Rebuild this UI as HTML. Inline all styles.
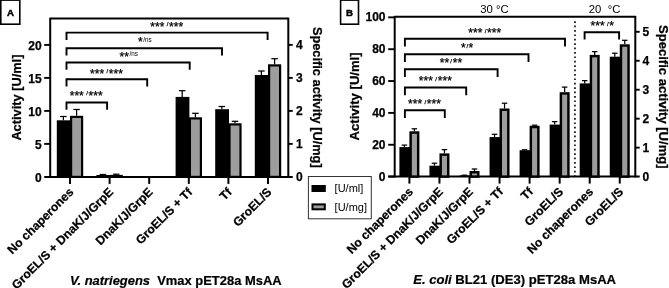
<!DOCTYPE html>
<html><head><meta charset="utf-8"><title>Figure</title>
<style>
html,body{margin:0;padding:0;background:#fff;}
svg{display:block;}
svg text{font-family:"Liberation Sans", sans-serif;white-space:pre;}
</style></head>
<body>
<svg width="669" height="288" viewBox="0 0 669 288">
<rect x="0" y="0" width="669" height="288" fill="#fff"/>
<line x1="50.20" y1="17.70" x2="50.20" y2="177.70" stroke="#000" stroke-width="2.0" />
<line x1="288.30" y1="17.70" x2="288.30" y2="177.70" stroke="#000" stroke-width="2.0" />
<line x1="50.20" y1="18.50" x2="288.30" y2="18.50" stroke="#000" stroke-width="2.0" />
<line x1="44.20" y1="176.90" x2="292.70" y2="176.90" stroke="#000" stroke-width="2.0" />
<text x="41.70" y="181.50" font-size="12" font-weight="bold" text-anchor="end" fill="#000" stroke="#000" stroke-width="0.25" >0</text>
<line x1="44.20" y1="143.90" x2="50.20" y2="143.90" stroke="#000" stroke-width="1.9" />
<text x="41.70" y="148.50" font-size="12" font-weight="bold" text-anchor="end" fill="#000" stroke="#000" stroke-width="0.25" >5</text>
<line x1="44.20" y1="110.90" x2="50.20" y2="110.90" stroke="#000" stroke-width="1.9" />
<text x="41.70" y="115.50" font-size="12" font-weight="bold" text-anchor="end" fill="#000" stroke="#000" stroke-width="0.25" >10</text>
<line x1="44.20" y1="77.90" x2="50.20" y2="77.90" stroke="#000" stroke-width="1.9" />
<text x="41.70" y="82.50" font-size="12" font-weight="bold" text-anchor="end" fill="#000" stroke="#000" stroke-width="0.25" >15</text>
<line x1="44.20" y1="44.90" x2="50.20" y2="44.90" stroke="#000" stroke-width="1.9" />
<text x="41.70" y="49.50" font-size="12" font-weight="bold" text-anchor="end" fill="#000" stroke="#000" stroke-width="0.25" >20</text>
<text x="296.00" y="180.90" font-size="12" font-weight="bold" text-anchor="start" fill="#000" stroke="#000" stroke-width="0.25" >0</text>
<line x1="288.30" y1="143.90" x2="292.70" y2="143.90" stroke="#000" stroke-width="1.9" />
<text x="296.00" y="147.90" font-size="12" font-weight="bold" text-anchor="start" fill="#000" stroke="#000" stroke-width="0.25" >1</text>
<line x1="288.30" y1="110.90" x2="292.70" y2="110.90" stroke="#000" stroke-width="1.9" />
<text x="296.00" y="114.90" font-size="12" font-weight="bold" text-anchor="start" fill="#000" stroke="#000" stroke-width="0.25" >2</text>
<line x1="288.30" y1="77.90" x2="292.70" y2="77.90" stroke="#000" stroke-width="1.9" />
<text x="296.00" y="81.90" font-size="12" font-weight="bold" text-anchor="start" fill="#000" stroke="#000" stroke-width="0.25" >3</text>
<line x1="288.30" y1="44.90" x2="292.70" y2="44.90" stroke="#000" stroke-width="1.9" />
<text x="296.00" y="48.90" font-size="12" font-weight="bold" text-anchor="start" fill="#000" stroke="#000" stroke-width="0.25" >4</text>
<line x1="70.00" y1="176.90" x2="70.00" y2="183.90" stroke="#000" stroke-width="2.0" />
<line x1="63.40" y1="120.30" x2="63.40" y2="116.50" stroke="#000" stroke-width="1.25" />
<line x1="60.15" y1="116.50" x2="66.65" y2="116.50" stroke="#000" stroke-width="1.25" />
<line x1="76.60" y1="115.80" x2="76.60" y2="109.50" stroke="#000" stroke-width="1.25" />
<line x1="73.35" y1="109.50" x2="79.85" y2="109.50" stroke="#000" stroke-width="1.25" />
<rect x="56.80" y="120.30" width="13.80" height="56.60" fill="#000"/>
<rect x="71.10" y="116.90" width="11.00" height="60.00" fill="#9d9d9d" stroke="#000" stroke-width="2.2"/>
<line x1="109.60" y1="176.90" x2="109.60" y2="183.90" stroke="#000" stroke-width="2.0" />
<line x1="103.00" y1="175.00" x2="103.00" y2="174.50" stroke="#000" stroke-width="1.25" />
<line x1="99.75" y1="174.50" x2="106.25" y2="174.50" stroke="#000" stroke-width="1.25" />
<line x1="116.20" y1="174.90" x2="116.20" y2="174.20" stroke="#000" stroke-width="1.25" />
<line x1="112.95" y1="174.20" x2="119.45" y2="174.20" stroke="#000" stroke-width="1.25" />
<rect x="96.40" y="175.00" width="13.80" height="1.90" fill="#000"/>
<rect x="110.70" y="176.00" width="11.00" height="0.90" fill="#9d9d9d" stroke="#000" stroke-width="2.2"/>
<line x1="149.20" y1="176.90" x2="149.20" y2="183.90" stroke="#000" stroke-width="2.0" />
<line x1="188.80" y1="176.90" x2="188.80" y2="183.90" stroke="#000" stroke-width="2.0" />
<line x1="182.20" y1="96.90" x2="182.20" y2="90.70" stroke="#000" stroke-width="1.25" />
<line x1="178.95" y1="90.70" x2="185.45" y2="90.70" stroke="#000" stroke-width="1.25" />
<line x1="195.40" y1="117.30" x2="195.40" y2="113.30" stroke="#000" stroke-width="1.25" />
<line x1="192.15" y1="113.30" x2="198.65" y2="113.30" stroke="#000" stroke-width="1.25" />
<rect x="175.60" y="96.90" width="13.80" height="80.00" fill="#000"/>
<rect x="189.90" y="118.40" width="11.00" height="58.50" fill="#9d9d9d" stroke="#000" stroke-width="2.2"/>
<line x1="228.40" y1="176.90" x2="228.40" y2="183.90" stroke="#000" stroke-width="2.0" />
<line x1="221.80" y1="109.20" x2="221.80" y2="106.50" stroke="#000" stroke-width="1.25" />
<line x1="218.55" y1="106.50" x2="225.05" y2="106.50" stroke="#000" stroke-width="1.25" />
<line x1="235.00" y1="123.30" x2="235.00" y2="121.30" stroke="#000" stroke-width="1.25" />
<line x1="231.75" y1="121.30" x2="238.25" y2="121.30" stroke="#000" stroke-width="1.25" />
<rect x="215.20" y="109.20" width="13.80" height="67.70" fill="#000"/>
<rect x="229.50" y="124.40" width="11.00" height="52.50" fill="#9d9d9d" stroke="#000" stroke-width="2.2"/>
<line x1="268.00" y1="176.90" x2="268.00" y2="183.90" stroke="#000" stroke-width="2.0" />
<line x1="261.40" y1="75.00" x2="261.40" y2="71.00" stroke="#000" stroke-width="1.25" />
<line x1="258.15" y1="71.00" x2="264.65" y2="71.00" stroke="#000" stroke-width="1.25" />
<line x1="274.60" y1="64.30" x2="274.60" y2="58.70" stroke="#000" stroke-width="1.25" />
<line x1="271.35" y1="58.70" x2="277.85" y2="58.70" stroke="#000" stroke-width="1.25" />
<rect x="254.80" y="75.00" width="13.80" height="101.90" fill="#000"/>
<rect x="269.10" y="65.40" width="11.00" height="111.50" fill="#9d9d9d" stroke="#000" stroke-width="2.2"/>
<text x="74.30" y="192.80" font-size="12.15" font-weight="bold" text-anchor="end" fill="#000" stroke="#000" stroke-width="0.25" transform="rotate(-45 74.30 192.80)" >No chaperones</text>
<text x="113.90" y="192.80" font-size="12.15" font-weight="bold" text-anchor="end" fill="#000" stroke="#000" stroke-width="0.25" transform="rotate(-45 113.90 192.80)" >GroEL/S + DnaK/J/GrpE</text>
<text x="153.50" y="192.80" font-size="12.15" font-weight="bold" text-anchor="end" fill="#000" stroke="#000" stroke-width="0.25" transform="rotate(-45 153.50 192.80)" >DnaK/J/GrpE</text>
<text x="193.10" y="192.80" font-size="12.15" font-weight="bold" text-anchor="end" fill="#000" stroke="#000" stroke-width="0.25" transform="rotate(-45 193.10 192.80)" >GroEL/S + Tf</text>
<text x="232.70" y="192.80" font-size="12.15" font-weight="bold" text-anchor="end" fill="#000" stroke="#000" stroke-width="0.25" transform="rotate(-45 232.70 192.80)" >Tf</text>
<text x="272.30" y="192.80" font-size="12.15" font-weight="bold" text-anchor="end" fill="#000" stroke="#000" stroke-width="0.25" transform="rotate(-45 272.30 192.80)" >GroEL/S</text>
<polyline points="66.50,39.90 66.50,32.60 267.60,32.60 267.60,39.90" fill="none" stroke="#000" stroke-width="1.9" stroke-linejoin="miter"/>
<text x="150.26" y="30.54" font-weight="normal" fill="#000"><tspan font-size="12.0" y="30.54" stroke="#000" stroke-width="0.25" letter-spacing="0.06">***</tspan><tspan font-size="5.9" y="26.10" dx="2.30" stroke="#000" stroke-width="0.25">/</tspan><tspan font-size="12.0" y="30.54" dx="0.70" stroke="#000" stroke-width="0.25" letter-spacing="0.06">***</tspan></text>
<polyline points="66.50,55.50 66.50,48.20 222.00,48.20 222.00,55.50" fill="none" stroke="#000" stroke-width="1.9" stroke-linejoin="miter"/>
<text x="137.96" y="45.94" font-weight="normal" fill="#000"><tspan font-size="12.0" y="45.94" stroke="#000" stroke-width="0.25" letter-spacing="0.06">*</tspan><tspan font-size="6.3" y="41.50" dx="0.50">/ns</tspan></text>
<polyline points="66.50,69.80 66.50,62.50 189.70,62.50 189.70,69.80" fill="none" stroke="#000" stroke-width="1.9" stroke-linejoin="miter"/>
<text x="119.46" y="60.54" font-weight="normal" fill="#000"><tspan font-size="12.0" y="60.54" stroke="#000" stroke-width="0.25" letter-spacing="0.06">**</tspan><tspan font-size="6.3" y="56.10" dx="0.50">/ns</tspan></text>
<polyline points="66.50,86.60 66.50,79.30 147.20,79.30 147.20,86.60" fill="none" stroke="#000" stroke-width="1.9" stroke-linejoin="miter"/>
<text x="89.96" y="77.74" font-weight="normal" fill="#000"><tspan font-size="12.0" y="77.74" stroke="#000" stroke-width="0.25" letter-spacing="0.06">***</tspan><tspan font-size="5.9" y="73.30" dx="2.30" stroke="#000" stroke-width="0.25">/</tspan><tspan font-size="12.0" y="77.74" dx="0.70" stroke="#000" stroke-width="0.25" letter-spacing="0.06">***</tspan></text>
<polyline points="66.50,109.80 66.50,102.50 107.10,102.50 107.10,109.80" fill="none" stroke="#000" stroke-width="1.9" stroke-linejoin="miter"/>
<text x="69.66" y="99.74" font-weight="normal" fill="#000"><tspan font-size="12.0" y="99.74" stroke="#000" stroke-width="0.25" letter-spacing="0.06">***</tspan><tspan font-size="5.9" y="95.30" dx="2.30" stroke="#000" stroke-width="0.25">/</tspan><tspan font-size="12.0" y="99.74" dx="0.70" stroke="#000" stroke-width="0.25" letter-spacing="0.06">***</tspan></text>
<text x="20.80" y="97.60" font-size="12.8" font-weight="bold" text-anchor="middle" fill="#000" stroke="#000" stroke-width="0.25" transform="rotate(-90 20.80 97.60)" >Activity [U/ml]</text>
<text x="312.90" y="97.30" font-size="12.8" font-weight="bold" text-anchor="middle" fill="#000" stroke="#000" stroke-width="0.25" transform="rotate(90 312.90 97.30)" >Specific activity [U/mg]</text>
<text transform="translate(175.8 284.5) scale(1.079 1)" x="0" y="0" font-size="12" font-weight="bold" stroke="#000" stroke-width="0.2" text-anchor="middle"><tspan font-style="italic">V. natriegens</tspan>  Vmax pET28a MsAA</text>
<rect x="0.8" y="0.1" width="19" height="24.1" fill="#fff" stroke="#000" stroke-width="1.6"/>
<text x="10.40" y="16.10" font-size="9.7" font-weight="bold" text-anchor="middle" fill="#000" stroke="#000" stroke-width="0.25" paint-order="stroke" style="stroke-width:0.45">A</text>
<rect x="308.4" y="176.5" width="62.9" height="42.3" fill="#fff" stroke="#333" stroke-width="1"/>
<rect x="311.5" y="185" width="14.3" height="7" fill="#000"/>
<rect x="312.5" y="204.4" width="12.3" height="4.9" fill="#9d9d9d" stroke="#000" stroke-width="2"/>
<text x="334.60" y="192.10" font-size="11" font-weight="normal" text-anchor="start" fill="#000" >[U/ml]</text>
<text x="334.60" y="210.60" font-size="11" font-weight="normal" text-anchor="start" fill="#000" >[U/mg]</text>
<line x1="394.70" y1="15.90" x2="394.70" y2="177.40" stroke="#000" stroke-width="2.0" />
<line x1="635.30" y1="15.90" x2="635.30" y2="177.40" stroke="#000" stroke-width="2.0" />
<line x1="394.70" y1="16.70" x2="635.30" y2="16.70" stroke="#000" stroke-width="2.0" />
<line x1="388.20" y1="176.60" x2="639.70" y2="176.60" stroke="#000" stroke-width="2.0" />
<line x1="388.20" y1="176.60" x2="394.70" y2="176.60" stroke="#000" stroke-width="1.9" />
<text x="385.50" y="180.70" font-size="12" font-weight="bold" text-anchor="end" fill="#000" stroke="#000" stroke-width="0.25" >0</text>
<line x1="388.20" y1="144.75" x2="394.70" y2="144.75" stroke="#000" stroke-width="1.9" />
<text x="385.50" y="148.85" font-size="12" font-weight="bold" text-anchor="end" fill="#000" stroke="#000" stroke-width="0.25" >20</text>
<line x1="388.20" y1="112.90" x2="394.70" y2="112.90" stroke="#000" stroke-width="1.9" />
<text x="385.50" y="117.00" font-size="12" font-weight="bold" text-anchor="end" fill="#000" stroke="#000" stroke-width="0.25" >40</text>
<line x1="388.20" y1="81.05" x2="394.70" y2="81.05" stroke="#000" stroke-width="1.9" />
<text x="385.50" y="85.15" font-size="12" font-weight="bold" text-anchor="end" fill="#000" stroke="#000" stroke-width="0.25" >60</text>
<line x1="388.20" y1="49.20" x2="394.70" y2="49.20" stroke="#000" stroke-width="1.9" />
<text x="385.50" y="53.30" font-size="12" font-weight="bold" text-anchor="end" fill="#000" stroke="#000" stroke-width="0.25" >80</text>
<line x1="388.20" y1="17.35" x2="394.70" y2="17.35" stroke="#000" stroke-width="1.9" />
<text x="385.50" y="21.45" font-size="12" font-weight="bold" text-anchor="end" fill="#000" stroke="#000" stroke-width="0.25" >100</text>
<text x="642.50" y="180.50" font-size="12" font-weight="bold" text-anchor="start" fill="#000" stroke="#000" stroke-width="0.25" >0</text>
<line x1="635.30" y1="147.64" x2="639.70" y2="147.64" stroke="#000" stroke-width="1.9" />
<text x="642.50" y="151.54" font-size="12" font-weight="bold" text-anchor="start" fill="#000" stroke="#000" stroke-width="0.25" >1</text>
<line x1="635.30" y1="118.68" x2="639.70" y2="118.68" stroke="#000" stroke-width="1.9" />
<text x="642.50" y="122.58" font-size="12" font-weight="bold" text-anchor="start" fill="#000" stroke="#000" stroke-width="0.25" >2</text>
<line x1="635.30" y1="89.72" x2="639.70" y2="89.72" stroke="#000" stroke-width="1.9" />
<text x="642.50" y="93.62" font-size="12" font-weight="bold" text-anchor="start" fill="#000" stroke="#000" stroke-width="0.25" >3</text>
<line x1="635.30" y1="60.76" x2="639.70" y2="60.76" stroke="#000" stroke-width="1.9" />
<text x="642.50" y="64.66" font-size="12" font-weight="bold" text-anchor="start" fill="#000" stroke="#000" stroke-width="0.25" >4</text>
<line x1="635.30" y1="31.80" x2="639.70" y2="31.80" stroke="#000" stroke-width="1.9" />
<text x="642.50" y="35.70" font-size="12" font-weight="bold" text-anchor="start" fill="#000" stroke="#000" stroke-width="0.25" >5</text>
 <line x1="575" y1="21.2" x2="574.9" y2="176.6" stroke="#000" stroke-width="1.6" stroke-dasharray="1.7 2.7"/>
<line x1="409.40" y1="176.60" x2="409.40" y2="183.60" stroke="#000" stroke-width="2.0" />
<line x1="404.40" y1="147.10" x2="404.40" y2="145.10" stroke="#000" stroke-width="1.25" />
<line x1="401.65" y1="145.10" x2="407.15" y2="145.10" stroke="#000" stroke-width="1.25" />
<line x1="414.40" y1="131.30" x2="414.40" y2="128.80" stroke="#000" stroke-width="1.25" />
<line x1="411.65" y1="128.80" x2="417.15" y2="128.80" stroke="#000" stroke-width="1.25" />
<rect x="399.40" y="147.10" width="10.60" height="29.50" fill="#000"/>
<rect x="410.62" y="132.53" width="7.55" height="44.07" fill="#9d9d9d" stroke="#000" stroke-width="2.45"/>
<line x1="439.45" y1="176.60" x2="439.45" y2="183.60" stroke="#000" stroke-width="2.0" />
<line x1="434.45" y1="165.70" x2="434.45" y2="163.20" stroke="#000" stroke-width="1.25" />
<line x1="431.70" y1="163.20" x2="437.20" y2="163.20" stroke="#000" stroke-width="1.25" />
<line x1="444.45" y1="153.40" x2="444.45" y2="149.60" stroke="#000" stroke-width="1.25" />
<line x1="441.70" y1="149.60" x2="447.20" y2="149.60" stroke="#000" stroke-width="1.25" />
<rect x="429.45" y="165.70" width="10.60" height="10.90" fill="#000"/>
<rect x="440.68" y="154.62" width="7.55" height="21.97" fill="#9d9d9d" stroke="#000" stroke-width="2.45"/>
<line x1="469.50" y1="176.60" x2="469.50" y2="183.60" stroke="#000" stroke-width="2.0" />
<line x1="464.50" y1="175.40" x2="464.50" y2="175.20" stroke="#000" stroke-width="1.25" />
<line x1="461.75" y1="175.20" x2="467.25" y2="175.20" stroke="#000" stroke-width="1.25" />
<line x1="474.50" y1="171.00" x2="474.50" y2="169.00" stroke="#000" stroke-width="1.25" />
<line x1="471.75" y1="169.00" x2="477.25" y2="169.00" stroke="#000" stroke-width="1.25" />
<rect x="459.50" y="175.40" width="10.60" height="1.20" fill="#000"/>
<rect x="470.73" y="172.22" width="7.55" height="4.37" fill="#9d9d9d" stroke="#000" stroke-width="2.45"/>
<line x1="499.55" y1="176.60" x2="499.55" y2="183.60" stroke="#000" stroke-width="2.0" />
<line x1="494.55" y1="137.10" x2="494.55" y2="134.30" stroke="#000" stroke-width="1.25" />
<line x1="491.80" y1="134.30" x2="497.30" y2="134.30" stroke="#000" stroke-width="1.25" />
<line x1="504.55" y1="108.50" x2="504.55" y2="103.20" stroke="#000" stroke-width="1.25" />
<line x1="501.80" y1="103.20" x2="507.30" y2="103.20" stroke="#000" stroke-width="1.25" />
<rect x="489.55" y="137.10" width="10.60" height="39.50" fill="#000"/>
<rect x="500.77" y="109.72" width="7.55" height="66.88" fill="#9d9d9d" stroke="#000" stroke-width="2.45"/>
<line x1="529.60" y1="176.60" x2="529.60" y2="183.60" stroke="#000" stroke-width="2.0" />
<line x1="524.60" y1="150.20" x2="524.60" y2="149.80" stroke="#000" stroke-width="1.25" />
<line x1="521.85" y1="149.80" x2="527.35" y2="149.80" stroke="#000" stroke-width="1.25" />
<line x1="534.60" y1="125.80" x2="534.60" y2="125.20" stroke="#000" stroke-width="1.25" />
<line x1="531.85" y1="125.20" x2="537.35" y2="125.20" stroke="#000" stroke-width="1.25" />
<rect x="519.60" y="150.20" width="10.60" height="26.40" fill="#000"/>
<rect x="530.83" y="127.02" width="7.55" height="49.57" fill="#9d9d9d" stroke="#000" stroke-width="2.45"/>
<line x1="559.65" y1="176.60" x2="559.65" y2="183.60" stroke="#000" stroke-width="2.0" />
<line x1="554.65" y1="124.60" x2="554.65" y2="121.60" stroke="#000" stroke-width="1.25" />
<line x1="551.90" y1="121.60" x2="557.40" y2="121.60" stroke="#000" stroke-width="1.25" />
<line x1="564.65" y1="92.20" x2="564.65" y2="87.10" stroke="#000" stroke-width="1.25" />
<line x1="561.90" y1="87.10" x2="567.40" y2="87.10" stroke="#000" stroke-width="1.25" />
<rect x="549.65" y="124.60" width="10.60" height="52.00" fill="#000"/>
<rect x="560.88" y="93.42" width="7.55" height="83.17" fill="#9d9d9d" stroke="#000" stroke-width="2.45"/>
<line x1="589.70" y1="176.60" x2="589.70" y2="183.60" stroke="#000" stroke-width="2.0" />
<line x1="584.70" y1="83.40" x2="584.70" y2="80.60" stroke="#000" stroke-width="1.25" />
<line x1="581.95" y1="80.60" x2="587.45" y2="80.60" stroke="#000" stroke-width="1.25" />
<line x1="594.70" y1="54.90" x2="594.70" y2="51.60" stroke="#000" stroke-width="1.25" />
<line x1="591.95" y1="51.60" x2="597.45" y2="51.60" stroke="#000" stroke-width="1.25" />
<rect x="579.70" y="83.40" width="10.60" height="93.20" fill="#000"/>
<rect x="590.93" y="56.12" width="7.55" height="120.47" fill="#9d9d9d" stroke="#000" stroke-width="2.45"/>
<line x1="619.75" y1="176.60" x2="619.75" y2="183.60" stroke="#000" stroke-width="2.0" />
<line x1="614.75" y1="56.70" x2="614.75" y2="53.20" stroke="#000" stroke-width="1.25" />
<line x1="612.00" y1="53.20" x2="617.50" y2="53.20" stroke="#000" stroke-width="1.25" />
<line x1="624.75" y1="44.30" x2="624.75" y2="40.30" stroke="#000" stroke-width="1.25" />
<line x1="622.00" y1="40.30" x2="627.50" y2="40.30" stroke="#000" stroke-width="1.25" />
<rect x="609.75" y="56.70" width="10.60" height="119.90" fill="#000"/>
<rect x="620.98" y="45.52" width="7.55" height="131.08" fill="#9d9d9d" stroke="#000" stroke-width="2.45"/>
<text x="413.70" y="192.40" font-size="12.15" font-weight="bold" text-anchor="end" fill="#000" stroke="#000" stroke-width="0.25" transform="rotate(-45 413.70 192.40)" >No chaperones</text>
<text x="443.75" y="192.40" font-size="12.15" font-weight="bold" text-anchor="end" fill="#000" stroke="#000" stroke-width="0.25" transform="rotate(-45 443.75 192.40)" >GroEL/S + DnaK/J/GrpE</text>
<text x="473.80" y="192.40" font-size="12.15" font-weight="bold" text-anchor="end" fill="#000" stroke="#000" stroke-width="0.25" transform="rotate(-45 473.80 192.40)" >DnaK/J/GrpE</text>
<text x="503.85" y="192.40" font-size="12.15" font-weight="bold" text-anchor="end" fill="#000" stroke="#000" stroke-width="0.25" transform="rotate(-45 503.85 192.40)" >GroEL/S + Tf</text>
<text x="533.90" y="192.40" font-size="12.15" font-weight="bold" text-anchor="end" fill="#000" stroke="#000" stroke-width="0.25" transform="rotate(-45 533.90 192.40)" >Tf</text>
<text x="563.95" y="192.40" font-size="12.15" font-weight="bold" text-anchor="end" fill="#000" stroke="#000" stroke-width="0.25" transform="rotate(-45 563.95 192.40)" >GroEL/S</text>
<text x="594.00" y="192.40" font-size="12.15" font-weight="bold" text-anchor="end" fill="#000" stroke="#000" stroke-width="0.25" transform="rotate(-45 594.00 192.40)" >No chaperones</text>
<text x="624.05" y="192.40" font-size="12.15" font-weight="bold" text-anchor="end" fill="#000" stroke="#000" stroke-width="0.25" transform="rotate(-45 624.05 192.40)" >GroEL/S</text>
<polyline points="404.90,46.60 404.90,38.80 565.00,38.80 565.00,46.60" fill="none" stroke="#000" stroke-width="1.9" stroke-linejoin="miter"/>
<text x="468.26" y="37.34" font-weight="normal" fill="#000"><tspan font-size="12.0" y="37.34" stroke="#000" stroke-width="0.25" letter-spacing="0.06">***</tspan><tspan font-size="5.9" y="32.90" dx="2.30" stroke="#000" stroke-width="0.25">/</tspan><tspan font-size="12.0" y="37.34" dx="0.70" stroke="#000" stroke-width="0.25" letter-spacing="0.06">***</tspan></text>
<polyline points="404.90,62.00 404.90,54.20 528.50,54.20 528.50,62.00" fill="none" stroke="#000" stroke-width="1.9" stroke-linejoin="miter"/>
<text x="461.06" y="52.44" font-weight="normal" fill="#000"><tspan font-size="12.0" y="52.44" stroke="#000" stroke-width="0.25" letter-spacing="0.06">*</tspan><tspan font-size="5.9" y="48.00" dx="0.80" stroke="#000" stroke-width="0.25">/</tspan><tspan font-size="12.0" y="52.44" dx="0.30" stroke="#000" stroke-width="0.25" letter-spacing="0.06">*</tspan></text>
<polyline points="404.90,77.00 404.90,69.20 497.60,69.20 497.60,77.00" fill="none" stroke="#000" stroke-width="1.9" stroke-linejoin="miter"/>
<text x="439.76" y="67.44" font-weight="normal" fill="#000"><tspan font-size="12.0" y="67.44" stroke="#000" stroke-width="0.25" letter-spacing="0.06">**</tspan><tspan font-size="5.9" y="63.00" dx="1.00" stroke="#000" stroke-width="0.25">/</tspan><tspan font-size="12.0" y="67.44" dx="0.90" stroke="#000" stroke-width="0.25" letter-spacing="0.06">**</tspan></text>
<polyline points="404.90,95.30 404.90,87.50 466.20,87.50 466.20,95.30" fill="none" stroke="#000" stroke-width="1.9" stroke-linejoin="miter"/>
<text x="418.86" y="85.44" font-weight="normal" fill="#000"><tspan font-size="12.0" y="85.44" stroke="#000" stroke-width="0.25" letter-spacing="0.06">***</tspan><tspan font-size="5.9" y="81.00" dx="2.30" stroke="#000" stroke-width="0.25">/</tspan><tspan font-size="12.0" y="85.44" dx="0.70" stroke="#000" stroke-width="0.25" letter-spacing="0.06">***</tspan></text>
<polyline points="404.90,118.00 404.90,110.20 444.80,110.20 444.80,118.00" fill="none" stroke="#000" stroke-width="1.9" stroke-linejoin="miter"/>
<text x="407.96" y="108.14" font-weight="normal" fill="#000"><tspan font-size="12.0" y="108.14" stroke="#000" stroke-width="0.25" letter-spacing="0.06">***</tspan><tspan font-size="5.9" y="103.70" dx="2.30" stroke="#000" stroke-width="0.25">/</tspan><tspan font-size="12.0" y="108.14" dx="0.70" stroke="#000" stroke-width="0.25" letter-spacing="0.06">***</tspan></text>
<polyline points="584.60,39.60 584.60,32.30 619.10,32.30 619.10,39.60" fill="none" stroke="#000" stroke-width="1.9" stroke-linejoin="miter"/>
<text x="590.46" y="30.04" font-weight="normal" fill="#000"><tspan font-size="12.0" y="30.04" stroke="#000" stroke-width="0.25" letter-spacing="0.06">***</tspan><tspan font-size="5.9" y="25.60" dx="2.30" stroke="#000" stroke-width="0.25">/</tspan><tspan font-size="12.0" y="30.04" dx="0.70" stroke="#000" stroke-width="0.25" letter-spacing="0.06">*</tspan></text>
<text x="359.30" y="96.40" font-size="13.1" font-weight="bold" text-anchor="middle" fill="#000" stroke="#000" stroke-width="0.25" transform="rotate(-90 359.30 96.40)" >Activity [U/ml]</text>
<text x="659.40" y="96.80" font-size="13.05" font-weight="bold" text-anchor="middle" fill="#000" stroke="#000" stroke-width="0.25" transform="rotate(90 659.40 96.80)" >Specific activity [U/mg]</text>
<text transform="translate(514.6 283.8) scale(1.092 1)" x="0" y="0" font-size="12" font-weight="bold" stroke="#000" stroke-width="0.2" text-anchor="middle"><tspan font-style="italic">E. coli</tspan> BL21 (DE3) pET28a MsAA</text>
<rect x="340.6" y="0.1" width="17.9" height="24.1" fill="#fff" stroke="#000" stroke-width="1.6"/>
<text x="349.50" y="16.10" font-size="9.7" font-weight="bold" text-anchor="middle" fill="#000" stroke="#000" stroke-width="0.25" paint-order="stroke" style="stroke-width:0.45">B</text>
<text transform="translate(494.4 12.5) scale(1.078 1)" x="0" y="0" font-size="10.5" text-anchor="middle" fill="#000">30 °C</text>
<text transform="translate(604.55 12.5) scale(1.078 1)" x="0" y="0" font-size="10.5" text-anchor="middle" fill="#000">20  °C</text>
</svg>
</body></html>
